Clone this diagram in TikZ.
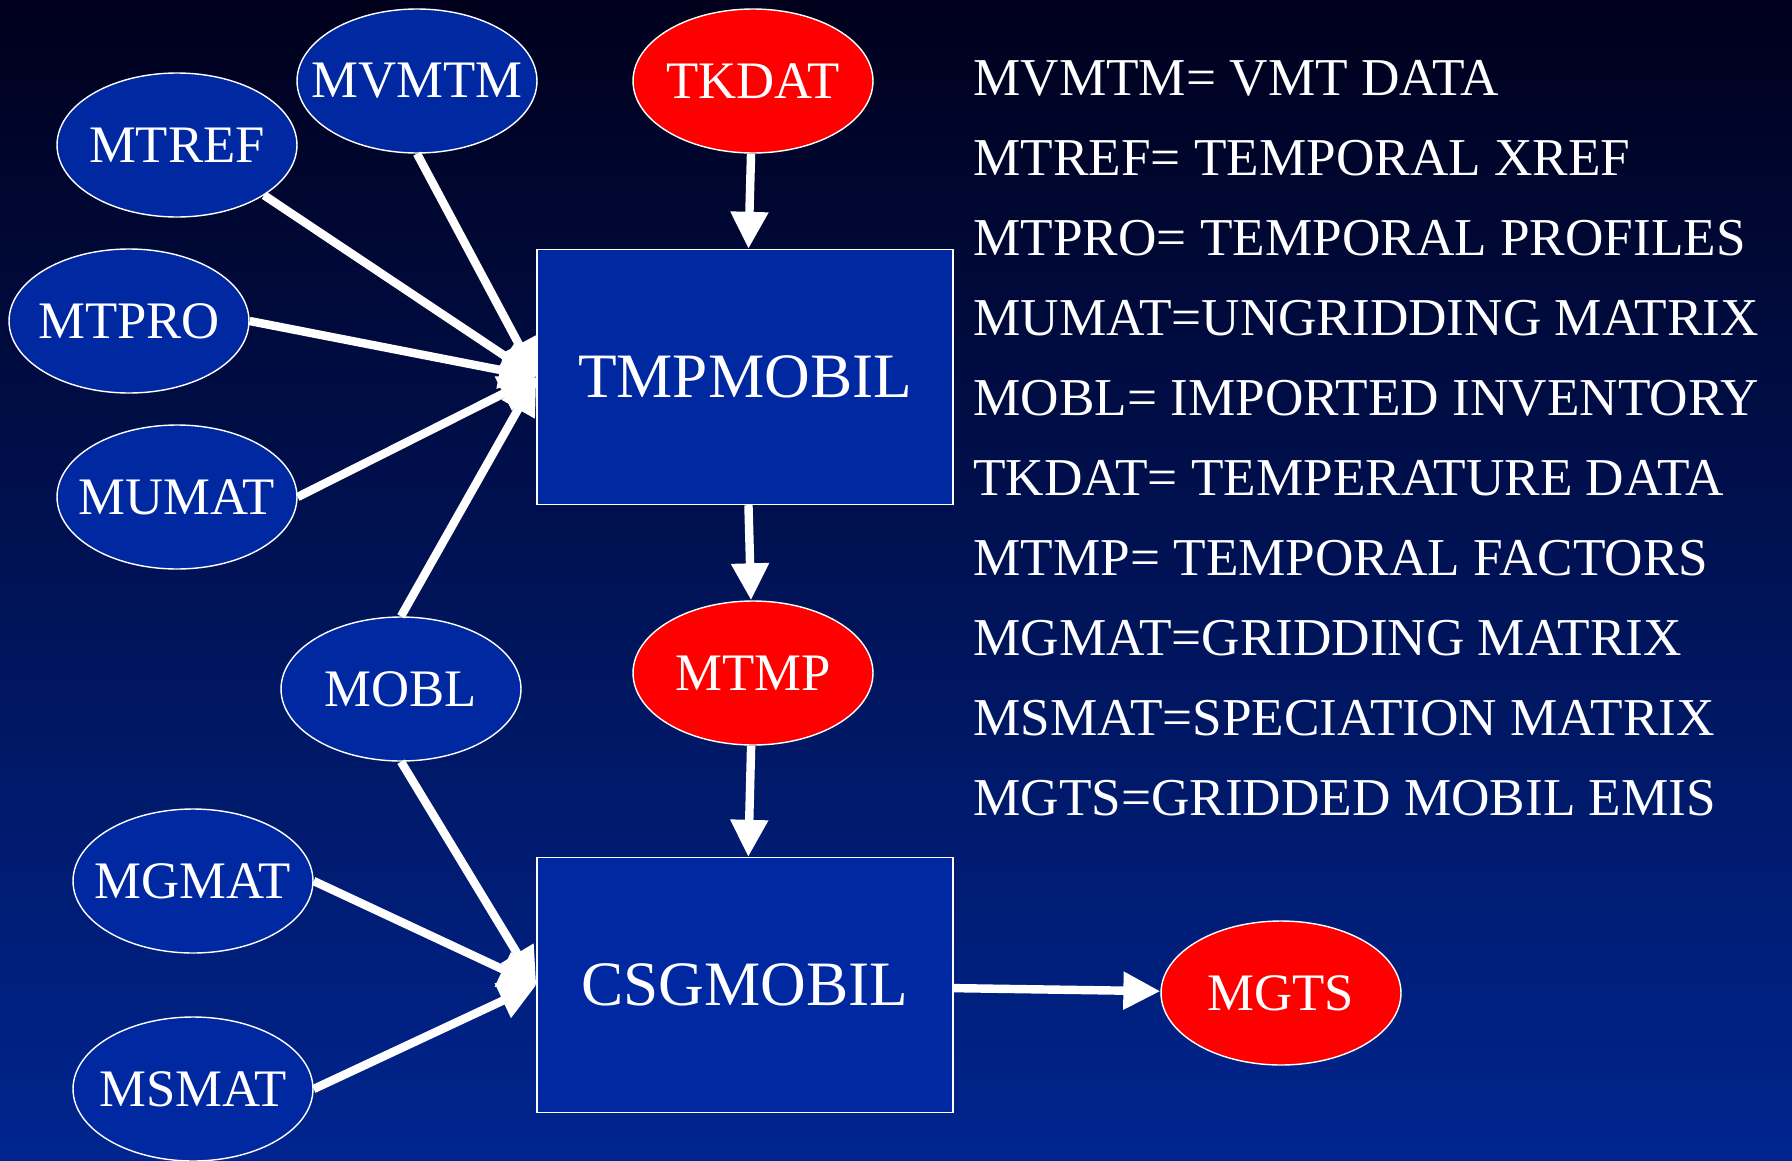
\documentclass[tikz,border=0pt]{standalone}
\usepackage{fontspec}
\setmainfont{Liberation Serif}
\usetikzlibrary{shapes.geometric,arrows.meta}
\definecolor{nightsky}{HTML}{00001C}
\definecolor{deepblue}{HTML}{00258F}
\definecolor{nodeblue}{HTML}{0028A0}
\definecolor{filered}{HTML}{FF0000}
% keep the ellipse size fixed, whatever the label width
\newcommand{\fname}[1]{\makebox[0pt]{#1}}

\tikzset{
  infile/.style={ellipse, draw=white, line width=0.8pt, fill=nodeblue, text=white,
    minimum width=4.8cm, minimum height=2.88cm, inner sep=0pt,
    font=\fontsize{30}{36}\selectfont},
  outfile/.style={infile, fill=filered},
  program/.style={rectangle, draw=white, line width=0.8pt, fill=nodeblue, text=white,
    minimum width=8.32cm, minimum height=5.1cm, inner sep=0pt,
    font=\fontsize{36}{42}\selectfont},
  flow/.style={white, line width=4.8pt, -{Triangle[length=0.74cm,width=0.72cm]}},
  legend/.style={anchor=west, text=white, inner sep=0pt,
    font=\fontsize{30.3}{36}\selectfont}
}

\begin{document}
\begin{tikzpicture}[x=0.02cm, y=-0.02cm]
% Background
\shade[top color=nightsky, bottom color=deepblue] (0,0) rectangle (1792,1160);
\useasboundingbox (0,0) rectangle (1792,1160);

% Programs
\node[program] (tmp) at (745,377) {TMPMOBIL};
\node[program] (csg) at (745,985) {CSGMOBIL};

% Input files
\node[infile] (mvmtm) at (417,81) {\fname{MVMTM}};
\node[infile] (mtref) at (177,145) {\fname{MTREF}};
\node[infile] (mtpro) at (129,321) {\fname{MTPRO}};
\node[infile] (mumat) at (177,497) {\fname{MUMAT}};
\node[infile] (mobl) at (401,689) {\fname{MOBL}};
\node[infile] (mgmat) at (193,881) {\fname{MGMAT}};
\node[infile] (msmat) at (193,1089) {\fname{MSMAT}};

% Red files
\node[outfile] (tkdat) at (753,81) {\fname{TKDAT}};
\node[outfile] (mtmp) at (753,673) {\fname{MTMP}};
\node[outfile] (mgts) at (1281,993) {\fname{MGTS}};

% Connections into TMPMOBIL
\foreach \src in {mvmtm.south,mtref.-30,mtpro.east,mumat.east,mobl.north} {
    \draw[flow] (\src) -- (tmp.west);
}
\draw[flow] (tkdat) -- (tmp);
\draw[flow] (tmp) -- (mtmp);

% Connections into CSGMOBIL
\foreach \src in {mobl.south,mgmat.east,msmat.east} {
    \draw[flow] (\src) -- (csg.west);
}
\draw[flow] (mtmp) -- (csg);
\draw[flow] (csg) -- (mgts);

% Legend
\node[legend] (l1) at (973,78) {MVMTM= VMT DATA};
\node[legend] (l2) at (973,158) {MTREF= TEMPORAL XREF};
\node[legend] (l3) at (973,238) {MTPRO= TEMPORAL PROFILES};
\node[legend] (l4) at (973,318) {MUMAT=UNGRIDDING MATRIX};
\node[legend] (l5) at (973,398) {MOBL= IMPORTED INVENTORY};
\node[legend] (l6) at (973,478) {TKDAT= TEMPERATURE DATA};
\node[legend] (l7) at (973,558) {MTMP= TEMPORAL FACTORS};
\node[legend] (l8) at (973,638) {MGMAT=GRIDDING MATRIX};
\node[legend] (l9) at (973,718) {MSMAT=SPECIATION MATRIX};
\node[legend] (l10) at (973,798) {MGTS=GRIDDED MOBIL EMIS};
\end{tikzpicture}
\end{document}
